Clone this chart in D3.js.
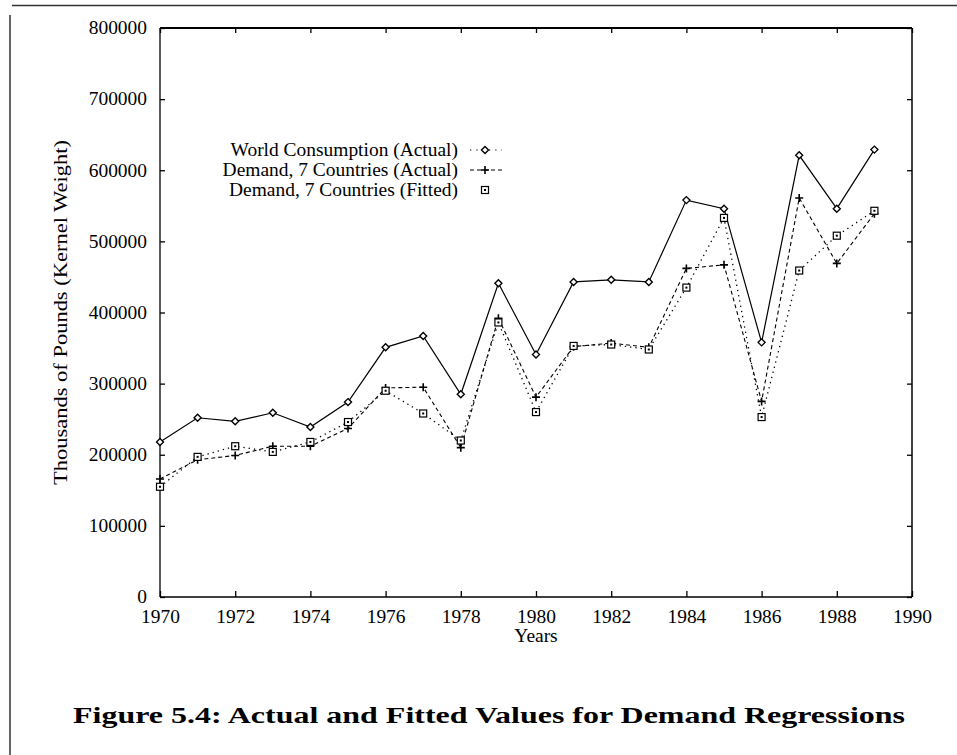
<!DOCTYPE html>
<html>
<head>
<meta charset="utf-8">
<script src="https://cdn.jsdelivr.net/npm/d3@7"></script>
<style>
  html, body { margin: 0; padding: 0; background: #fff; }
  svg { display: block; }
  text { font-family: "Liberation Serif", "Times New Roman", serif; fill: #000; }
</style>
</head>
<body>
<svg id="chart" width="957" height="755"></svg>
<script>
// ---- data ----
const years = [1970,1971,1972,1973,1974,1975,1976,1977,1978,1979,1980,1981,1982,1983,1984,1985,1986,1987,1988,1989];
const worldActual = [218000,252000,247000,259000,239000,274000,351000,367000,285000,441000,341000,443000,446000,443000,558000,546000,358000,621000,546000,629000];
const demandActual = [166000,193000,199000,212000,212000,237000,294000,295000,210000,392000,281000,352000,357000,351000,462000,467000,275000,561000,469000,539000];
const demandFitted = [155000,197000,212000,204000,218000,246000,290000,258000,220000,386000,260000,353000,355000,348000,435000,533000,253000,459000,508000,543000];
const xTicks = [1970,1972,1974,1976,1978,1980,1982,1984,1986,1988,1990];
const yTicks = [0,100000,200000,300000,400000,500000,600000,700000,800000];
const seriesNames = ["World Consumption (Actual)", "Demand, 7 Countries (Actual)", "Demand, 7 Countries (Fitted)"];
const xLabel = "Years";
const yLabel = "Thousands of Pounds (Kernel Weight)";
const caption = "Figure 5.4: Actual and Fitted Values for Demand Regressions";

// ---- layout ----
const svg = d3.select("#chart");
const L = 160, R = 912, T = 28, B = 597;
const x = d3.scaleLinear().domain([1970, 1990]).range([L, R]);
const y = d3.scaleLinear().domain([0, 800000]).range([B, T]);
const stretch = 1.08;
function widen(sel) {
  sel.each(function () {
    const w = this.getComputedTextLength();
    if (w > 0) d3.select(this).attr("textLength", w * stretch).attr("lengthAdjust", "spacingAndGlyphs");
  });
}

// page border (scan edges)
svg.append("line").attr("x1", 12).attr("x2", 957).attr("y1", 5.5).attr("y2", 5.5)
  .attr("stroke", "#333").attr("stroke-width", 1.5);
svg.append("line").attr("x1", 10).attr("x2", 10).attr("y1", 15).attr("y2", 755)
  .attr("stroke", "#333").attr("stroke-width", 1.5);

// frame
const frame = svg.append("g");
frame.append("line").attr("x1", L).attr("x2", R).attr("y1", T).attr("y2", T).attr("stroke", "#000").attr("stroke-width", 2);
frame.append("line").attr("x1", L).attr("x2", R).attr("y1", B).attr("y2", B).attr("stroke", "#000").attr("stroke-width", 1.3);
frame.append("line").attr("x1", L).attr("x2", L).attr("y1", T).attr("y2", B).attr("stroke", "#000").attr("stroke-width", 1.3);
frame.append("line").attr("x1", R).attr("x2", R).attr("y1", T).attr("y2", B).attr("stroke", "#000").attr("stroke-width", 1.5);

// axes via d3 axis generators (ticks inward)
const axFont = 18;
const gLeft = svg.append("g").attr("transform", `translate(${L},0)`)
  .call(d3.axisLeft(y).tickValues(yTicks).tickFormat(d3.format("d")).tickSizeInner(-5).tickSizeOuter(0).tickPadding(13));
const gRight = svg.append("g").attr("transform", `translate(${R},0)`)
  .call(d3.axisRight(y).tickValues(yTicks).tickFormat("").tickSizeInner(-5).tickSizeOuter(0));
const gBottom = svg.append("g").attr("transform", `translate(0,${B})`)
  .call(d3.axisBottom(x).tickValues(xTicks).tickFormat(d3.format("d")).tickSizeInner(-6).tickSizeOuter(0).tickPadding(13));
const gTop = svg.append("g").attr("transform", `translate(0,${T})`)
  .call(d3.axisTop(x).tickValues(xTicks).tickFormat("").tickSizeInner(-5).tickSizeOuter(0));
[gLeft, gRight, gBottom, gTop].forEach(g => {
  g.select(".domain").remove();
  g.selectAll(".tick line").attr("stroke", "#000").attr("stroke-width", 1.3);
  g.selectAll("text").attr("font-family", "Liberation Serif, serif").attr("font-size", axFont).attr("fill", "#000");
});
gBottom.selectAll("text").attr("dy", "0.71em");
widen(gLeft.selectAll("text"));
widen(gBottom.selectAll("text"));

// axis titles
widen(svg.append("text").attr("x", x(1980)).attr("y", 642).attr("text-anchor", "middle")
  .attr("font-size", 18).attr("fill", "#000").text(xLabel));
svg.append("text").attr("transform", `translate(67,${(T + B) / 2}) rotate(-90)`)
  .attr("text-anchor", "middle").attr("font-size", 18).attr("fill", "#000")
  .attr("textLength", 345).attr("lengthAdjust", "spacingAndGlyphs").text(yLabel);

// lines
const line = d3.line().x(d => x(d[0])).y(d => y(d[1]));
const styles = [
  { data: worldActual, dash: null, width: 1.2, sym: "diamond" },
  { data: demandActual, dash: "4,3", width: 1.1, sym: "plus" },
  { data: demandFitted, dash: "1.3,4", width: 1.3, sym: "box" }
];
const plot = svg.append("g");
styles.forEach(s => {
  const pts = years.map((yr, i) => [yr, s.data[i]]);
  plot.append("path").datum(pts).attr("d", line).attr("fill", "none")
    .attr("stroke", "#000").attr("stroke-width", s.width)
    .attr("stroke-dasharray", s.dash);
});

function drawSymbol(g, sym, cx, cy) {
  if (sym === "diamond") {
    g.append("path").attr("d", `M${cx},${cy - 3.5}L${cx + 3.5},${cy}L${cx},${cy + 3.5}L${cx - 3.5},${cy}Z`)
      .attr("fill", "#fff").attr("stroke", "#000").attr("stroke-width", 1.4);
  } else if (sym === "plus") {
    g.append("path").attr("d", `M${cx - 4},${cy}H${cx + 4}M${cx},${cy - 4}V${cy + 4}`)
      .attr("stroke", "#000").attr("stroke-width", 1.6);
  } else {
    g.append("rect").attr("x", cx - 3.5).attr("y", cy - 3.5).attr("width", 7).attr("height", 7)
      .attr("fill", "#fff").attr("stroke", "#000").attr("stroke-width", 1.2);
    g.append("rect").attr("x", cx - 1).attr("y", cy - 1).attr("width", 2).attr("height", 2).attr("fill", "#000");
  }
}
styles.forEach(s => {
  years.forEach((yr, i) => drawSymbol(plot, s.sym, x(yr), y(s.data[i])));
});

// legend
const legY = [150, 170, 190];
const leg = svg.append("g");
seriesNames.forEach((name, i) => {
  widen(leg.append("text").attr("x", 458).attr("y", legY[i]).attr("dy", "0.35em")
    .attr("text-anchor", "end").attr("font-size", 18).attr("fill", "#000").text(name));
  if (styles[i].sym !== "box") {
    leg.append("line").attr("x1", 470).attr("x2", 502).attr("y1", legY[i]).attr("y2", legY[i])
      .attr("stroke", "#000").attr("stroke-width", styles[i].width)
      .attr("stroke-dasharray", i === 0 ? "1.3,5" : "4,3");
  }
  drawSymbol(leg, styles[i].sym, 485, legY[i]);
});

// caption
svg.append("text").attr("x", 73).attr("y", 723)
  .attr("font-family", "DejaVu Serif, serif").attr("font-weight", "bold").attr("font-size", 23).attr("fill", "#000")
  .attr("textLength", 832).attr("lengthAdjust", "spacingAndGlyphs").text(caption);
</script>
</body>
</html>
